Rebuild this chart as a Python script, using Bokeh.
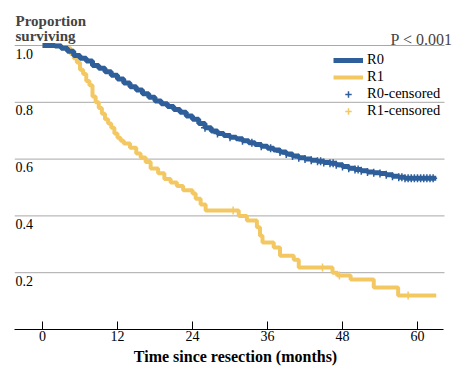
import numpy as np
from bokeh.plotting import figure
from bokeh.models import Range1d, Label, Legend, LegendItem, FixedTicker
from bokeh.core.properties import value
from bokeh.embed import file_html
from bokeh.resources import INLINE

FONT = "Liberation Serif"

# R0 survival curve (months, proportion)
r0_t = [0, 2, 3, 4, 5, 6, 7, 8, 9, 10, 11, 12, 13, 14, 15, 16, 17, 18, 19, 20,
        21, 22, 23, 24, 25, 26, 27, 28, 29, 30, 31, 32, 33, 34, 35, 36, 37, 38,
        39, 40, 41, 42, 43, 44, 45, 46, 47, 48, 49, 50, 51, 52, 53, 54, 55, 56,
        57, 58, 63]
r0_s = [1.0, 0.998, 0.99, 0.98, 0.965, 0.955, 0.945, 0.93, 0.92, 0.908, 0.895,
        0.882, 0.868, 0.855, 0.843, 0.83, 0.818, 0.805, 0.795, 0.785, 0.775,
        0.765, 0.752, 0.74, 0.725, 0.71, 0.699, 0.69, 0.683, 0.677, 0.672,
        0.665, 0.658, 0.651, 0.645, 0.638, 0.632, 0.625, 0.618, 0.611, 0.605,
        0.6, 0.596, 0.592, 0.588, 0.585, 0.58, 0.574, 0.568, 0.563, 0.559,
        0.555, 0.552, 0.549, 0.545, 0.54, 0.536, 0.533, 0.533]

# R1 survival curve
r1_t = [0, 3, 4.5, 5, 5.5, 6, 6.5, 7, 7.5, 8, 8.5, 9, 9.5, 10, 10.5, 11, 11.5,
        12, 12.5, 13, 14, 15, 15.7, 16.5, 17.3, 18.5, 19.5, 20.5, 21.5, 22.5,
        24, 24.5, 25.3, 26.1, 31.4, 32.7, 34.3, 34.8, 35.2, 37, 38, 40.2, 41,
        46.4, 47.2, 49.3, 53, 56.9, 63]
r1_s = [1.0, 0.99, 0.97, 0.955, 0.94, 0.915, 0.9, 0.875, 0.86, 0.82, 0.8, 0.78,
        0.76, 0.74, 0.725, 0.71, 0.69, 0.675, 0.665, 0.655, 0.64, 0.62, 0.606,
        0.59, 0.567, 0.55, 0.53, 0.518, 0.505, 0.49, 0.479, 0.46, 0.44, 0.419,
        0.4, 0.384, 0.36, 0.33, 0.306, 0.289, 0.26, 0.246, 0.218, 0.2, 0.19,
        0.176, 0.148, 0.12, 0.12]

# censoring times
r0_cens = [26, 28, 30, 32, 33.5, 35, 36.5, 38, 39, 40, 41, 42, 43, 44, 44.5, 45,
           46, 46.5, 47, 48, 49, 50, 50.5, 51, 52, 53, 54, 55, 56, 57, 57.5, 58,
           58.5, 59, 59.5, 60, 60.5, 61, 61.5, 62, 62.5]
r1_cens = [30.5, 44.8, 47.5, 58.5]

x_ticks = [0, 12, 24, 36, 48, 60]
y_ticks = [0.2, 0.4, 0.6, 0.8, 1.0]
y_tick_labels = ["0.2", "0.4", "0.6", "0.8", "1.0"]

BLUE = "#2e5f9b"
YELLOW = "#f3c862"

# pixel layout constants
W, H = 458, 376
FRAME_L, FRAME_R, FRAME_B = 14, 456, 329
PLOT_R = 444                     # right end of axis / gridlines (px)
PX_X = 6.25                      # px per month
PX_Y = 284.0                     # px per unit proportion
X0 = 42                          # px of month 0


def dx(px):
    return (px - X0) / PX_X


def dy(py):
    return (FRAME_B - py) / PX_Y


def step_at(ts, ss, t):
    i = np.searchsorted(np.array(ts), t, side="right") - 1
    return [ss[k] for k in i]


p = figure(width=W, height=H, output_backend="svg", toolbar_location=None,
           x_range=Range1d(dx(FRAME_L), dx(FRAME_R)), y_range=Range1d(0, dy(0)),
           min_border_left=FRAME_L, min_border_right=W - FRAME_R,
           min_border_top=0, min_border_bottom=H - FRAME_B)
p.outline_line_color = None
p.background_fill_color = "white"
p.yaxis.visible = False
p.xgrid.visible = False
p.ygrid.visible = False

# horizontal gridlines, limited to the plotted width
n = len(y_ticks)
p.segment(x0=[dx(FRAME_L)] * n, x1=[dx(PLOT_R)] * n, y0=y_ticks, y1=y_ticks,
          line_color="#a8a8a8", line_width=1)

ax = p.xaxis[0]
ax.ticker = FixedTicker(ticks=x_ticks)
ax.bounds = (dx(FRAME_L), dx(PLOT_R - 1))
ax.major_tick_in = 8
ax.major_tick_out = 0
ax.minor_tick_line_color = None
ax.axis_line_color = "black"
ax.major_tick_line_color = "black"
ax.major_label_text_font = FONT
ax.major_label_text_font_size = "14px"
ax.major_label_text_color = "black"
ax.major_label_standoff = 1
ax.axis_label = "Time since resection (months)"
ax.axis_label_text_font = FONT
ax.axis_label_text_font_size = "16px"
ax.axis_label_text_font_style = "bold"
ax.axis_label_text_color = "black"
ax.axis_label_standoff = 4

# y tick labels inside the plot under the gridlines
p.text(x=[dx(15)] * n, y=y_ticks, text=y_tick_labels,
       text_font=value(FONT), text_font_size="14px", text_baseline="top",
       text_align="left", y_offset=3, text_color="black")

r1 = p.step(r1_t, r1_s, mode="after", line_color=YELLOW, line_width=4)
r0 = p.step(r0_t, r0_s, mode="after", line_color=BLUE, line_width=5)
c0 = p.scatter(r0_cens, step_at(r0_t, r0_s, r0_cens), marker="cross", size=8,
               line_color=BLUE, line_width=1.5)
c1 = p.scatter(r1_cens, step_at(r1_t, r1_s, r1_cens), marker="cross", size=8,
               line_color=YELLOW, line_width=1.5)

legend = Legend(items=[LegendItem(label="R0", renderers=[r0]),
                       LegendItem(label="R1", renderers=[r1]),
                       LegendItem(label="R0-censored", renderers=[c0]),
                       LegendItem(label="R1-censored", renderers=[c1])],
                location=(333 - FRAME_L, FRAME_B - 119), padding=0, margin=0,
                spacing=0, glyph_height=16, label_height=16, glyph_width=30,
                label_standoff=4, border_line_color=None,
                background_fill_alpha=0,
                label_text_font=FONT, label_text_font_size="14.5px",
                label_text_color="black")
p.add_layout(legend)

p.add_layout(Label(x=dx(15), y=dy(20), text="Proportion", text_font=FONT,
                   text_font_size="15px", text_font_style="bold",
                   text_baseline="alphabetic"))
p.add_layout(Label(x=dx(15), y=dy(35), text="surviving", text_font=FONT,
                   text_font_size="15px", text_font_style="bold",
                   text_baseline="alphabetic"))
p.add_layout(Label(x=dx(452), y=dy(39), text="P < 0.001",
                   text_font=FONT, text_font_size="16px", text_align="right",
                   text_baseline="alphabetic"))

open("out.html", "w").write(file_html(p, INLINE))
